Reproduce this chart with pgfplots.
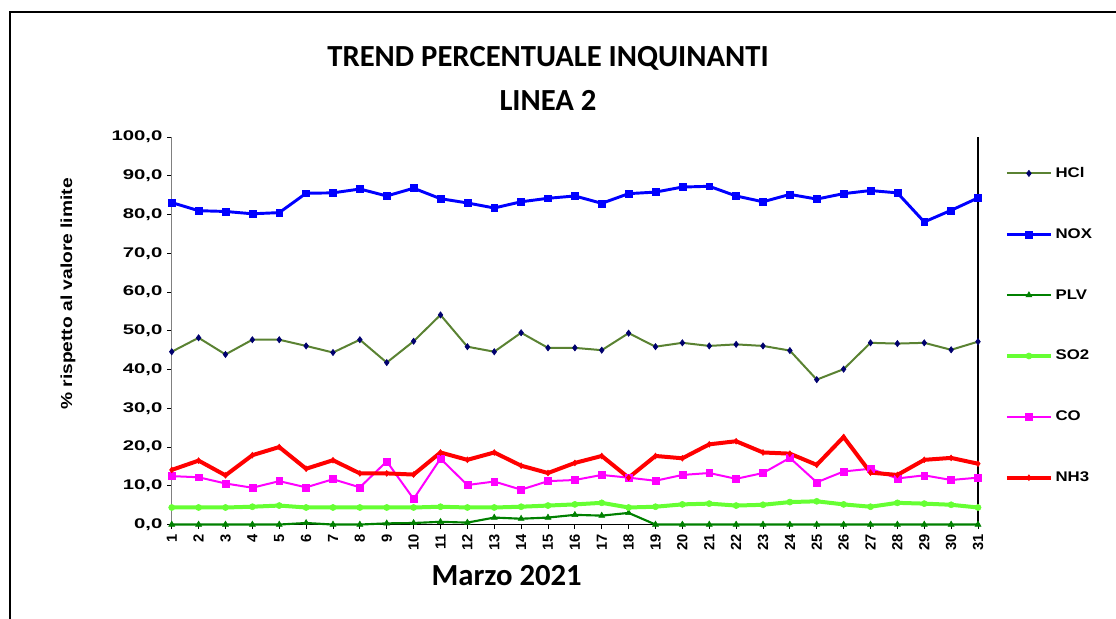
\documentclass[border=0pt]{standalone}
\usepackage{fontspec}
\setmainfont{Liberation Sans}
\newfontfamily\titlefont{Carlito}
\newfontfamily\widefont[FakeStretch=1.45]{Liberation Sans}
\newfontfamily\legfont[FakeStretch=1.2]{Liberation Sans}
\usepackage{pgfplots}
\usepackage{pgfplotstable}
\pgfplotsset{compat=1.18}
\definecolor{hclc}{RGB}{90,130,50}
\definecolor{navym}{RGB}{0,0,110}
\definecolor{noxc}{RGB}{0,0,255}
\definecolor{plvc}{RGB}{0,128,0}
\definecolor{so2c}{RGB}{102,255,51}
\definecolor{coc}{RGB}{255,0,255}
\definecolor{nh3c}{RGB}{255,0,0}
\definecolor{axgray}{RGB}{128,128,128}
\pgfplotstableread{
day hcl nox plv so2 co nh3
1 44.6 83.1 0.0 4.4 12.5 14.1
2 48.2 81.0 0.0 4.4 12.2 16.5
3 43.9 80.8 0.0 4.4 10.6 12.7
4 47.7 80.2 0.0 4.6 9.5 17.9
5 47.7 80.5 0.0 4.9 11.2 20.0
6 46.1 85.5 0.4 4.4 9.6 14.4
7 44.4 85.6 0.0 4.4 11.7 16.6
8 47.7 86.6 0.0 4.4 9.6 13.2
9 41.8 84.8 0.3 4.4 16.3 13.2
10 47.3 86.8 0.4 4.4 6.6 12.9
11 54.1 84.1 0.7 4.6 17.0 18.6
12 45.9 83.0 0.5 4.4 10.2 16.7
13 44.6 81.7 1.8 4.4 11.1 18.6
14 49.5 83.3 1.5 4.6 9.0 15.2
15 45.6 84.2 1.8 4.9 11.2 13.3
16 45.6 84.8 2.5 5.2 11.5 15.9
17 45.0 82.9 2.3 5.6 12.8 17.7
18 49.4 85.4 3.0 4.4 12.1 12.1
19 45.9 85.8 0.0 4.6 11.3 17.7
20 46.9 87.1 0.0 5.2 12.8 17.1
21 46.1 87.3 0.0 5.4 13.3 20.7
22 46.5 84.8 0.0 4.9 11.8 21.5
23 46.1 83.3 0.0 5.1 13.3 18.6
24 44.9 85.2 0.0 5.8 17.2 18.3
25 37.4 84.0 0.0 6.0 10.9 15.4
26 40.1 85.4 0.0 5.2 13.7 22.6
27 46.9 86.2 0.0 4.6 14.4 13.4
28 46.7 85.6 0.0 5.6 11.9 12.8
29 46.9 78.1 0.0 5.4 12.7 16.7
30 45.1 81.1 0.0 5.1 11.5 17.2
31 47.2 84.3 0.0 4.4 12.1 15.7
}\datatable
\begin{document}
\begin{tikzpicture}
\useasboundingbox (0pt,0pt) rectangle (837pt,-463.5pt);
\draw[line width=1.5pt] (7.5pt,-480pt) -- (7.5pt,-9pt) -- (850pt,-9pt);
\node[font=\titlefont\bfseries\fontsize{23}{27}\selectfont] at (411pt,-43.5pt) {TREND PERCENTUALE INQUINANTI};
\node[font=\titlefont\bfseries\fontsize{23}{27}\selectfont] at (411pt,-75pt) {LINEA 2};
\node[font=\titlefont\bfseries\fontsize{23}{27}\selectfont] at (380pt,-432pt) {Marzo 2021};
\node[font=\legfont\bfseries\fontsize{12}{14}\selectfont, rotate=90] at (51pt,-220.5pt) {\% rispetto al valore limite};
\begin{axis}[
  at={(128.8pt,-393.4pt)}, anchor=south west,
  scale only axis, width=604.7pt, height=290.6pt,
  xmin=1, xmax=31, ymin=0, ymax=100,
  clip=false,
  axis x line*=bottom, axis y line*=left,
  x axis line style={black, line width=0.8pt, -},
  y axis line style={axgray, line width=0.8pt, -},
  tick align=outside,
  major tick length=3.5pt,
  tick style={black, line width=0.6pt},
  xtick={1,...,31},
  xticklabels={1,2,3,4,5,6,7,8,9,10,11,12,13,14,15,16,17,18,19,20,21,22,23,24,25,26,27,28,29,30,31},
  ytick={0,10,...,100},
  xticklabel style={font=\bfseries\fontsize{11}{13}\selectfont, rotate=90, anchor=east, xshift=0pt, yshift=0pt},
  yticklabel style={font=\widefont\bfseries\fontsize{10.5}{12}\selectfont,
    /pgf/number format/.cd, fixed, fixed zerofill, precision=1, use comma},
  /pgf/number format/assume math mode=true,
  legend cell align=left,
  legend style={draw=none, fill=none, at={(rel axis cs:1,1)}, anchor=north west,
    xshift=17pt, yshift=-18.5pt, row sep=32.8pt,
    font=\legfont\bfseries\fontsize{10.5}{12}\selectfont,
    nodes={inner sep=2pt}},
  legend image code/.code={\draw[mark repeat=2,mark phase=2,#1] plot coordinates {(0pt,0pt) (16.5pt,0pt) (33pt,0pt)};},
]
\addplot[hclc, line width=1.5pt, mark=diamond*, mark size=2.3pt, mark options={fill=navym, draw=navym, line width=0.5pt}] table[x=day,y=hcl] {\datatable};
\addlegendentry{HCl}
\addplot[noxc, line width=2.2pt, mark=square*, mark size=2.6pt, mark options={line width=0.4pt}] table[x=day,y=nox] {\datatable};
\addlegendentry{NOX}
\addplot[plvc, line width=1.6pt, mark=triangle*, mark size=2.6pt, mark options={line width=0.4pt}] table[x=day,y=plv] {\datatable};
\addlegendentry{PLV}
\addplot[so2c, line width=3pt, mark=*, mark size=2.3pt, mark options={line width=0.4pt}] table[x=day,y=so2] {\datatable};
\addlegendentry{SO2}
\addplot[coc, line width=1.5pt, mark=square*, mark size=2.6pt, mark options={line width=0.4pt}] table[x=day,y=co] {\datatable};
\addlegendentry{CO}
\addplot[nh3c, line width=3pt, mark=diamond*, mark size=2.2pt, mark options={line width=0.4pt}] table[x=day,y=nh3] {\datatable};
\addlegendentry{NH3}
\draw[black, line width=0.9pt] (rel axis cs:1,0) -- (rel axis cs:1,1);
\end{axis}
\end{tikzpicture}
\end{document}
